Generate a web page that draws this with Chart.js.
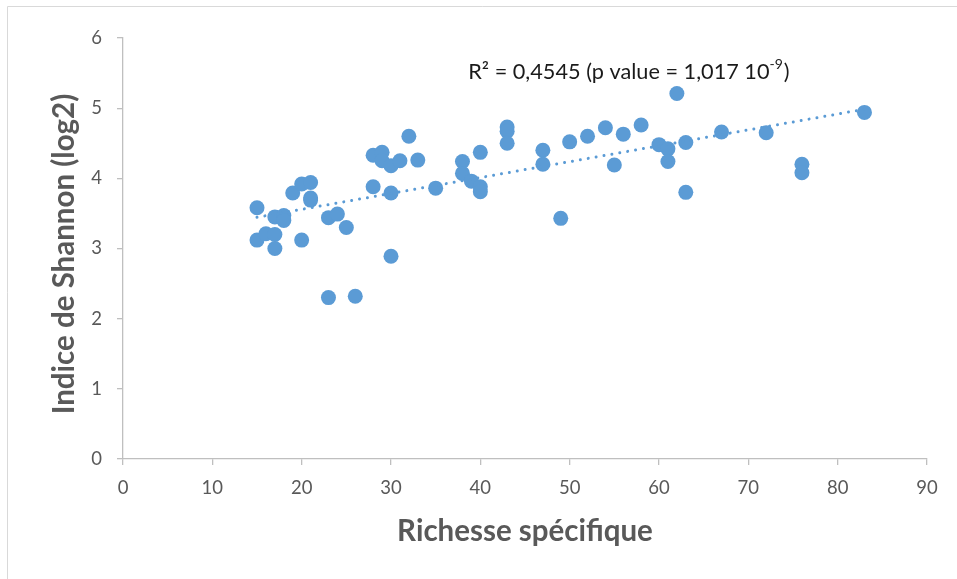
<!DOCTYPE html>
<html><head><meta charset="utf-8">
<script src="https://cdn.jsdelivr.net/npm/chart.js@4.4.1/dist/chart.umd.min.js"></script>
<style>html,body{margin:0;padding:0;background:#fff;overflow:hidden}</style>
</head><body>
<canvas id="c" width="957" height="579"></canvas>
<script>
// ---- data ----
const richesse = [15,15,16,17,17,17,18,18,19,20,20,21,21,21,23,23,24,25,26,28,28,29,29,30,30,30,31,32,33,35,38,38,39,40,40,40,43,43,43,47,47,49,50,52,54,55,56,58,60,61,61,62,63,63,67,72,76,76,83];
const shannon  = [3.58,3.12,3.21,3.45,3.20,3.00,3.47,3.40,3.79,3.92,3.12,3.94,3.72,3.69,3.44,2.30,3.49,3.30,2.32,4.33,3.88,4.37,4.25,4.18,3.79,2.89,4.25,4.60,4.26,3.86,4.24,4.07,3.96,4.37,3.88,3.81,4.73,4.67,4.50,4.40,4.20,3.43,4.52,4.60,4.72,4.19,4.63,4.76,4.48,4.42,4.24,5.21,4.51,3.80,4.66,4.65,4.20,4.08,4.94];
const xTickValues = [0,10,20,30,40,50,60,70,80,90];
const yTickValues = [0,1,2,3,4,5,6];
const xTitle = 'Richesse spécifique';
const yTitle = 'Indice de Shannon (log2)';
const annoMain = 'R² = 0,4545 (p value = 1,017 10';
const annoSup = '-9';
const annoEnd = ')';
const annoAt = {x: 38.65, y: 5.42};

// linear regression (trend line) from the data
const n = richesse.length;
const mx = richesse.reduce((a,b)=>a+b,0)/n;
const my = shannon.reduce((a,b)=>a+b,0)/n;
let sxy=0, sxx=0;
for (let i=0;i<n;i++){ sxy+=(richesse[i]-mx)*(shannon[i]-my); sxx+=(richesse[i]-mx)**2; }
const slope = sxy/sxx, icpt = my - slope*mx;
const xMin = Math.min(...richesse), xMax = Math.max(...richesse);
const trend = [{x:xMin,y:icpt+slope*xMin},{x:xMax,y:icpt+slope*xMax}];
const points = richesse.map((x,i)=>({x, y: shannon[i]}));

const FONT = 'Lato, "Open Sans", sans-serif';
const GRAY = '#595959';
const AXIS = '#BFBFBF';
const BLUE = '#5B9BD5';
const TITLE_SIZE = 29.5;

const frame = {
  id:'frame',
  beforeDraw(chart){
    const c = chart.ctx; c.save();
    c.strokeStyle = '#D9D9D9'; c.lineWidth = 1;
    c.beginPath(); c.moveTo(7.5,579); c.lineTo(7.5,6.5); c.lineTo(957,6.5); c.stroke();
    c.restore();
  }
};
const anno = {
  id:'anno',
  afterDatasetsDraw(chart){
    const c = chart.ctx, xs = chart.scales.x, ys = chart.scales.y;
    let px = xs.getPixelForValue(annoAt.x), py = ys.getPixelForValue(annoAt.y);
    c.save(); c.fillStyle = '#1a1a1a'; c.textBaseline = 'alphabetic'; c.textAlign = 'left';
    c.font = '21.7px ' + FONT;
    c.fillText(annoMain, px, py); px += c.measureText(annoMain).width;
    c.font = '14px ' + FONT;
    c.fillText(annoSup, px, py - 10); px += c.measureText(annoSup).width + 1;
    c.font = '21.7px ' + FONT;
    c.fillText(annoEnd, px, py);
    c.restore();
    // y-axis title
    c.save();
    c.translate(64, (ys.top + ys.bottom)/2 + 5.5);
    c.rotate(-Math.PI/2);
    c.fillStyle = GRAY; c.textAlign = 'center'; c.textBaseline = 'middle';
    c.font = 'bold ' + TITLE_SIZE + 'px ' + FONT;
    c.fillText(yTitle, 0, 0);
    c.restore();
  }
};

new Chart(document.getElementById('c'), {
  type: 'scatter',
  data: { datasets: [
    { label:'trend', data: trend, showLine:true, borderColor: BLUE, borderWidth: 3,
      borderDash:[0.01,8], borderCapStyle:'round', pointRadius:0, fill:false },
    { label:'Shannon', data: points, backgroundColor: BLUE, borderColor: BLUE, borderWidth:0,
      pointRadius:7.5, pointHoverRadius:7.5 }
  ]},
  options: {
    responsive:false, animation:false, devicePixelRatio:1,
    layout:{ padding:{left:0, right:30, top:38, bottom:0} },
    plugins:{ legend:{display:false}, tooltip:{enabled:false} },
    scales:{
      x:{ type:'linear', min:0, max:90,
        afterBuildTicks(s){ s.ticks = xTickValues.map(v=>({value:v})); },
        afterFit(s){ s.height = 120; },
        ticks:{ color:GRAY, font:{family:FONT, size:18.5}, padding:12 },
        grid:{ drawOnChartArea:false, drawTicks:true, tickLength:6, color:AXIS, lineWidth:1.3 },
        border:{ display:true, color:AXIS, width:1.3 },
        title:{ display:true, text:xTitle, color:GRAY, font:{family:FONT, size:TITLE_SIZE, weight:'bold'}, padding:{top:0,bottom:30} }
      },
      y:{ type:'linear', min:0, max:6,
        afterBuildTicks(s){ s.ticks = yTickValues.map(v=>({value:v})); },
        afterFit(s){ s.width = 123; },
        ticks:{ color:GRAY, font:{family:FONT, size:18.5}, padding:15 },
        grid:{ drawOnChartArea:false, drawTicks:true, tickLength:6, color:AXIS, lineWidth:1.3 },
        border:{ display:true, color:AXIS, width:1.3 },
        title:{ display:false, text:yTitle }
      }
    }
  },
  plugins:[frame, anno]
});
</script>
</body></html>
